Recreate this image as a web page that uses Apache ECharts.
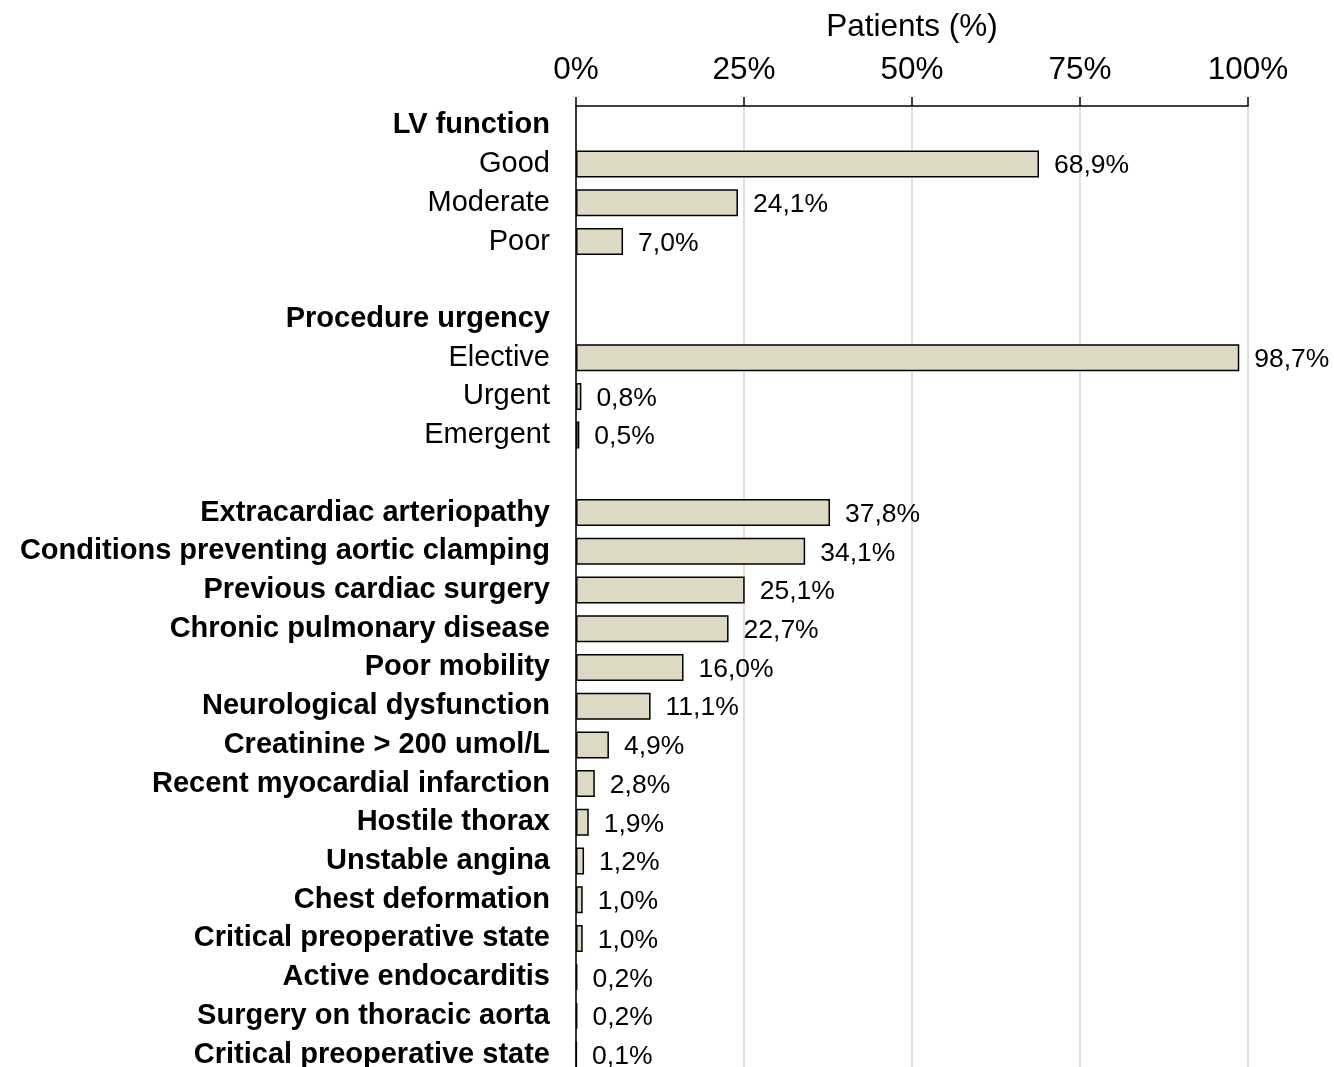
<!DOCTYPE html>
<html>
<head>
<meta charset="utf-8">
<script src="https://cdn.jsdelivr.net/npm/echarts@6/dist/echarts.min.js"></script>
<style>
  html, body { margin: 0; padding: 0; background: #fff; }
  #chart { width: 1334px; height: 1067px; }
</style>
</head>
<body>
<div id="chart"></div>
<script>
// rows top to bottom, '' = spacer row
const categories = [
  'LV function', 'Good', 'Moderate', 'Poor', '',
  'Procedure urgency', 'Elective', 'Urgent', 'Emergent', ' ',
  'Extracardiac arteriopathy',
  'Conditions preventing aortic clamping',
  'Previous cardiac surgery',
  'Chronic pulmonary disease',
  'Poor mobility',
  'Neurological dysfunction',
  'Creatinine > 200 umol/L',
  'Recent myocardial infarction',
  'Hostile thorax',
  'Unstable angina',
  'Chest deformation',
  'Critical preoperative state',
  'Active endocarditis',
  'Surgery on thoracic aorta',
  'Critical preoperative state'
];
// sub-options of a group (drawn in normal weight)
const subOptions = ['Good', 'Moderate', 'Poor', 'Elective', 'Urgent', 'Emergent'];

// patients (%), null for header / spacer rows
const patients = [
  null, 68.9, 24.1, 7.0, null,
  null, 98.7, 0.8, 0.5, null,
  37.8, 34.1, 25.1, 22.7, 16.0, 11.1, 4.9, 2.8, 1.9, 1.2, 1.0, 1.0, 0.2, 0.2, 0.1
];

const xTicks = [0, 25, 50, 75, 100];

const font = "'Liberation Sans', Arial, sans-serif";
const chart = echarts.init(document.getElementById('chart'));

const option = {
  animation: false,
  textStyle: { fontFamily: font },
  grid: {
    left: 576,
    top: 106,
    width: 672,
    height: 968,
    containLabel: false,
    outerBoundsMode: 'none'
  },
  xAxis: {
    type: 'value',
    position: 'top',
    min: xTicks[0],
    max: xTicks[xTicks.length - 1],
    interval: xTicks[1] - xTicks[0],
    name: 'Patients (%)',
    nameLocation: 'middle',
    nameGap: 63,
    nameTextStyle: { color: '#000', fontSize: 31.5, fontFamily: font },
    axisLine: { show: true, lineStyle: { color: '#000', width: 1.5 } },
    axisTick: { show: true, length: 9, lineStyle: { color: '#000', width: 1.5 } },
    axisLabel: {
      color: '#000',
      fontSize: 31.5,
      margin: 20,
      fontFamily: font,
      formatter: '{value}%'
    },
    splitLine: { show: true, lineStyle: { color: '#d4d3cb', width: 1.5 } }
  },
  yAxis: {
    type: 'category',
    inverse: true,
    data: categories.map(c => ({
      value: c,
      textStyle: { fontWeight: subOptions.indexOf(c) >= 0 ? 'normal' : 'bold' }
    })),
    axisLine: { show: true, onZero: false, lineStyle: { color: '#000', width: 1.5 } },
    axisTick: { show: false },
    axisLabel: {
      color: '#000',
      fontSize: 29,
      margin: 26,
      fontFamily: font,
      interval: 0,
      padding: [0, 0, 10, 0]
    },
    splitLine: { show: false }
  },
  series: [
    {
      type: 'bar',
      data: patients.map(v => (v === null ? '-' : v)),
      barWidth: 27,
      itemStyle: {
        color: '#ddd9c3',
        borderColor: '#000',
        borderWidth: 1.5
      },
      label: {
        show: true,
        position: 'right',
        distance: 15,
        offset: [0, 2],
        color: '#000',
        fontSize: 26.5,
        fontFamily: font,
        formatter: p => p.value.toFixed(1).replace('.', ',') + '%'
      }
    }
  ]
};

chart.setOption(option);
</script>
</body>
</html>
